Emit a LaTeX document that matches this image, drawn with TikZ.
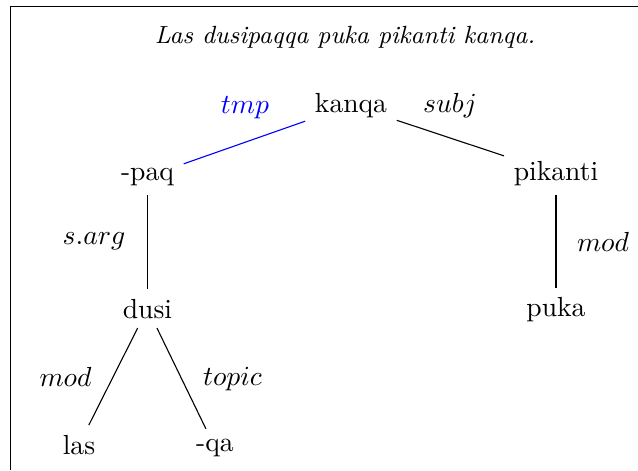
\documentclass[tikz,border=0pt]{standalone}
\usepackage{amsmath}
\usepackage{xcolor}
\usepackage{tikz}
\usetikzlibrary{positioning}
\definecolor{tmprel}{RGB}{0,0,255}

\begin{document}
\begin{tikzpicture}[x=0.3623pt,y=-0.3623pt,
    word/.style={anchor=base},
    rel/.style={anchor=base}]
    \useasboundingbox (0,0) rectangle (638,470);
    % frame
    \draw (10.5,470) -- (10.5,6.7) -- (638,6.7);
    \node[anchor=base,font=\small\itshape] (title) at (345,43.3) {Las dusipaqqa puka pikanti kanqa.};
    % words
    \node[word] (kanqa) at (351,112) {kanqa};
    \node[word] (paq) at (147.5,180) {-paq};
    \node[word] (pikanti) at (556,180) {pikanti};
    \node[word] (dusi) at (147.5,318) {dusi};
    \node[word] (puka) at (556,316.7) {puka};
    \node[word] (las) at (79,454) {las};
    \node[word] (qa) at (215,451) {-qa};
    % relations
    \draw[tmprel] (kanqa) -- (paq);
    \draw (kanqa) -- (pikanti);
    \draw (paq) -- (dusi);
    \draw (pikanti) -- (puka);
    \draw (dusi) -- (las);
    \draw (dusi) -- (qa);
    \node[rel,text=tmprel] (ltmp) at (245,113) {$tmp$};
    \node[rel] (lsubj) at (450,112) {$subj$};
    \node[rel] (lsarg) at (94,244) {$s.arg$};
    \node[rel] (lmodr) at (603,251) {$mod$};
    \node[rel] (lmodl) at (65.5,386.7) {$mod$};
    \node[rel] (ltopic) at (232.5,385) {$topic$};
\end{tikzpicture}
\end{document}
